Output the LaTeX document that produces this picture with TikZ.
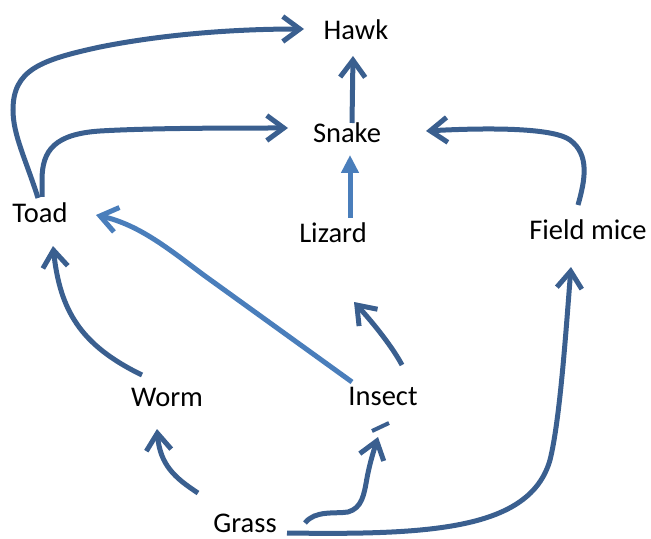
\documentclass[tikz,border=0pt]{standalone}
\usepackage{fontspec}
\setmainfont{Carlito}
\usetikzlibrary{arrows.meta}
\definecolor{dk}{HTML}{3A5F8F}
\definecolor{lt}{HTML}{4A7EBB}
\tikzset{
  lbl/.style={anchor=base, inner sep=0pt, font=\fontsize{28.5bp}{32bp}\selectfont, text=black},
  link/.style={draw=dk, line width=5bp, -{Straight Barb[length=17bp,width=25bp,line width=5bp]}},
  linklt/.style={link, draw=lt},
  linktri/.style={draw=lt, line width=5bp, -{Triangle[length=18bp,width=17bp]}, fill=lt},
  frag/.style={draw=dk, line width=4bp},
}
\begin{document}
\begin{tikzpicture}[x=1bp, y=-1bp]
\useasboundingbox (0,0) rectangle (651,539);
% nodes
\node[lbl] (hawk) at (356,40) {Hawk};
\node[lbl] (snake) at (347,143) {Snake};
\node[lbl] (toad) at (40,223) {Toad};
\node[lbl] (lizard) at (333,243) {Lizard};
\node[lbl] (mice) at (588,240) {Field mice};
\node[lbl] (worm) at (167,406) {Worm};
\node[lbl] (insect) at (383,405) {Insect};
\node[lbl] (grass) at (245,532) {Grass};
% endpoints
\coordinate (toadA) at (38,198);
\coordinate (toadB) at (42,197);
\coordinate (hawkIn) at (304,29);
\coordinate (hawkIn2) at (353,56);
\coordinate (snakeInL) at (288,128);
\coordinate (snakeOut) at (352,123);
\coordinate (snakeInB) at (350,155);
\coordinate (snakeInR) at (426,131);
\coordinate (lizardOut) at (350,218);
\coordinate (lizardIn) at (354,302);
\coordinate (miceOut) at (578,205);
\coordinate (miceIn) at (571,267);
\coordinate (toadInR) at (96,215);
\coordinate (toadInB) at (53,246);
\coordinate (insectOutL) at (352,382);
\coordinate (insectOutT) at (402,365);
\coordinate (insectIn) at (378,437);
\coordinate (fragA) at (372,431);
\coordinate (fragB) at (389,423);
\coordinate (wormOut) at (142,375);
\coordinate (wormIn) at (157,429);
\coordinate (grassOutL) at (198,493);
\coordinate (grassOutM) at (305,523);
\coordinate (grassOutR) at (287,533);
% connectors
\draw[link] (toadA) .. controls (26,160) and (13,135) .. (13,110)
  .. controls (13,70) and (40,60) .. (100,47)
  .. controls (160,35) and (230,29) .. (hawkIn);
\draw[link] (toadB) -- (42,180) .. controls (42,150) and (55,134) .. (100,131)
  .. controls (150,128) and (230,128) .. (snakeInL);
\draw[link] (snakeOut) -- (hawkIn2);
\draw[linktri] (lizardOut) -- (snakeInB);
\draw[link] (miceOut) .. controls (585,180) and (590,155) .. (570,140)
  .. controls (555,129) and (500,127) .. (snakeInR);
\draw[linklt] (insectOutL) -- (205,276) .. controls (170,250) and (140,225) .. (toadInR);
\draw[link] (insectOutT) .. controls (393,348) and (375,325) .. (lizardIn);
\draw[link] (wormOut) .. controls (80,345) and (60,310) .. (toadInB);
\draw[link] (grassOutL) .. controls (175,478) and (160,465) .. (wormIn);
\draw[link] (grassOutM) .. controls (315,510) and (335,514) .. (348,512)
  .. controls (362,508) and (364,495) .. (367,478)
  .. controls (370,462) and (374,450) .. (insectIn);
\draw[frag] (fragA) -- (fragB);
\draw[link] (grassOutR) .. controls (430,535) and (530,530) .. (550,460)
  .. controls (560,420) and (566,330) .. (miceIn);
\end{tikzpicture}
\end{document}
